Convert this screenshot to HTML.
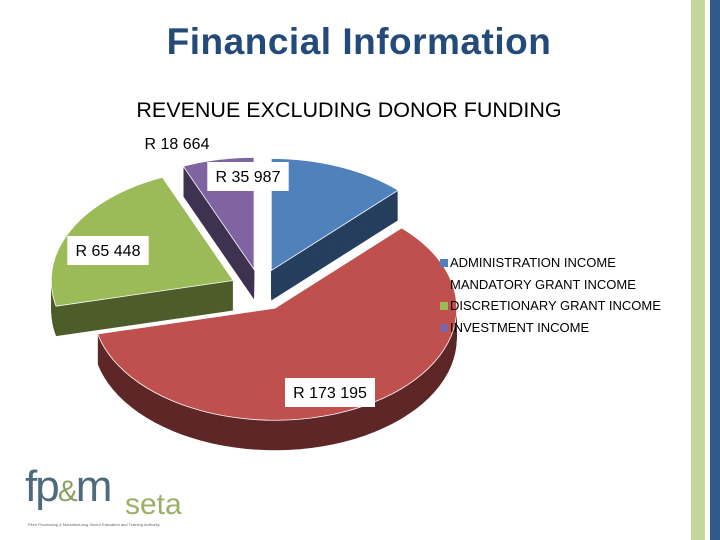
<!DOCTYPE html>
<html><head><meta charset="utf-8"><style>
body{margin:0;width:720px;height:540px;background:#fff;overflow:hidden;position:relative;font-family:"Liberation Sans",sans-serif}
.t{position:absolute;white-space:nowrap}
</style></head><body>
<div class="t" style="left:0;width:718px;text-align:center;top:21px;font-size:37px;font-weight:bold;color:#234a78;letter-spacing:0.5px">Financial Information</div>
<div class="t" style="left:0;width:698px;text-align:center;top:98px;font-size:21.5px;color:#000">REVENUE EXCLUDING DONOR FUNDING</div>
<div style="position:absolute;left:691px;top:0;width:14px;height:540px;background:#c3d69b"></div>
<div style="position:absolute;left:710px;top:0;width:10px;height:540px;background:#2e5a8c"></div>
<svg id="pie" width="720" height="540" style="position:absolute;left:0;top:0"></svg>
<div id="legend" style="position:absolute;left:440px;top:252px;font-size:13px;line-height:21.5px;color:#000"></div>
<div style="position:absolute;left:25px;top:470px;width:170px;height:60px">
<div class="t" style="left:0;top:-8px;font-size:44px;color:#4d6b7a;letter-spacing:-2px">fp<span style="font-size:30px;color:#8aa060">&amp;</span>m</div>
<div class="t" style="left:100px;top:18px;font-size:30px;color:#9bb067">seta</div>
<div class="t" style="left:3px;top:52px;font-size:4px;color:#666">Fibre Processing &amp; Manufacturing Sector Education and Training Authority</div>
</div>
<script>
const categories=["ADMINISTRATION INCOME","MANDATORY GRANT INCOME","DISCRETIONARY GRANT INCOME","INVESTMENT INCOME"];
const values=[35987,173195,65448,18664];
const valueLabels=["R  35 987","R  173 195","R  65 448","R  18 664"];
const topColors=["#4f81bd","#c0504d","#9bbb59","#8064a2"];
const sideColors=["#263f5e","#5e2727","#4c5d2b","#3f3150"];
const cx=260,cy=290,rx=182,ry=112,depth=30,ex=30;
const svg=document.getElementById('pie');const NS="http://www.w3.org/2000/svg";
const total=values.reduce((a,b)=>a+b,0);
let acc=0;const slices=values.map((v,i)=>{const a0=acc/total*2*Math.PI;acc+=v;const a1=acc/total*2*Math.PI;return{i,a0,a1};});
function pathFor(s,dy){const m=(s.a0+s.a1)/2;const ax=cx+ex*Math.sin(m),ay=cy-ex*0.7*Math.cos(m)+dy;
let d=`M${ax},${ay}`;const n=60;for(let k=0;k<=n;k++){const t=s.a0+(s.a1-s.a0)*k/n;d+=` L${ax+rx*Math.sin(t)},${ay-ry*Math.cos(t)}`;}return d+'Z';}
[3,0,2,1].forEach(idx=>{const s=slices[idx];
for(let d=depth;d>0;d-=1){const p=document.createElementNS(NS,'path');p.setAttribute('d',pathFor(s,d));p.setAttribute('fill',sideColors[idx]);


svg.appendChild(p);}
const p=document.createElementNS(NS,'path');p.setAttribute('d',pathFor(s,0));p.setAttribute('fill',topColors[idx]);p.setAttribute('stroke','#fff');p.setAttribute('stroke-width','0.8');


svg.appendChild(p);});
const labelPos=[[248,176,true],[330,392,true],[108,250,true],[177,143,false]];
slices.forEach(s=>{const [x,y,box]=labelPos[s.i];const g=document.createElementNS(NS,'g');


const t=document.createElementNS(NS,'text');t.setAttribute('x',x);t.setAttribute('y',y+6);t.setAttribute('text-anchor','middle');t.setAttribute('font-size','16');t.setAttribute('font-family','Liberation Sans, sans-serif');t.textContent=valueLabels[s.i];
if(box){const w=valueLabels[s.i].length*8.6+4;const r=document.createElementNS(NS,'rect');r.setAttribute('x',x-w/2);r.setAttribute('y',y-14);r.setAttribute('width',w);r.setAttribute('height',29);r.setAttribute('fill','#fff');g.appendChild(r);}
g.appendChild(t);svg.appendChild(g);});
const lg=document.getElementById('legend');
categories.forEach((c,i)=>{const r=document.createElement('div');


r.innerHTML=`<span style="display:inline-block;width:8px;height:8px;background:${topColors[i]};margin-right:2px"></span>${c}`;lg.appendChild(r);});
</script>
</body></html>
